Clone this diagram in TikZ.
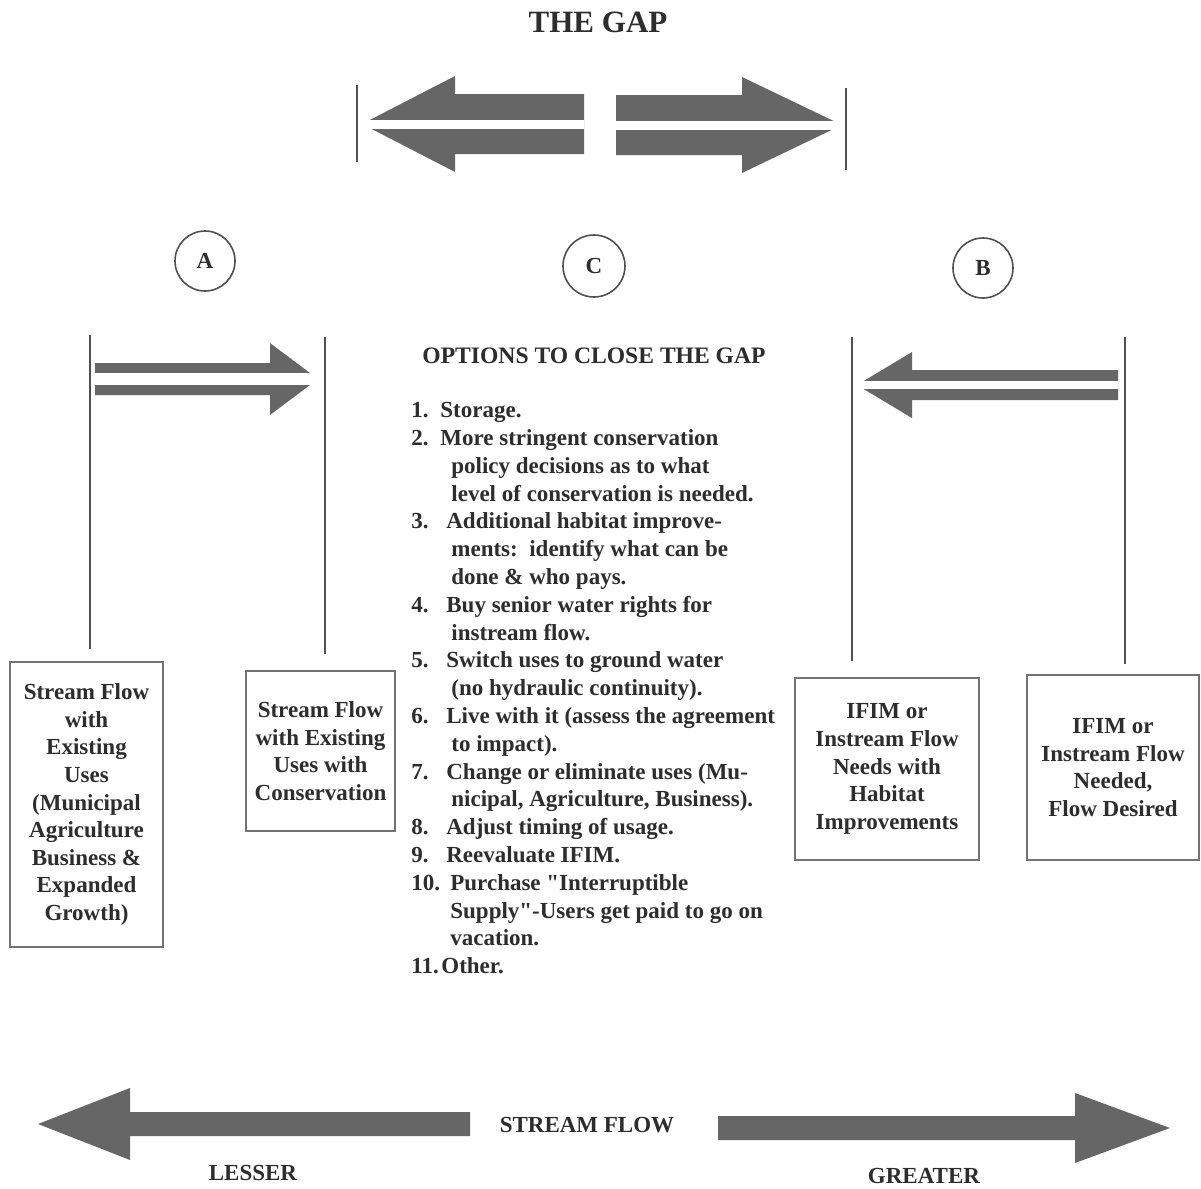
\documentclass[tikz,border=0pt]{standalone}
\usepackage{fontspec}
\setmainfont{Liberation Serif}
\usetikzlibrary{positioning}
\definecolor{scanGray}{RGB}{102,102,102}
\definecolor{inkGray}{RGB}{45,45,45}
\definecolor{ruleGray}{RGB}{80,80,80}

% fat arrow: tail x, head base x, tip x, mid y, shaft half, head half
\newcommand{\flowarrow}[6]{%
  \fill[arrowfill] (#1,#4-#5) -- (#2,#4-#5) -- (#2,#4-#6) -- (#3,#4)
    -- (#2,#4+#6) -- (#2,#4+#5) -- (#1,#4+#5) -- cycle;}

\begin{document}
\begin{tikzpicture}[
    x=0.5pt, y=-0.5pt,
    txt/.style={font=\bfseries\fontsize{11.5}{13.9}\selectfont, text=inkGray, inner sep=0pt},
    ring/.style={circle, draw=ruleGray, line width=0.8pt, minimum size=30pt,
                 inner sep=0pt, font=\bfseries\fontsize{11.5}{13.9}\selectfont, text=inkGray},
    flowbox/.style={rectangle, draw=black!55, line width=0.8pt, align=center,
                    font=\bfseries\fontsize{11.5}{13.8}\selectfont, text=inkGray, inner sep=2pt},
    guide/.style={draw=ruleGray, line width=0.9pt},
    arrowfill/.style={fill=scanGray},
  ]
  \fill[white] (0,0) rectangle (1201,1189);
  \useasboundingbox (0,0) rectangle (1201,1189);

  % the gap
  \node[txt, font=\bfseries\fontsize{15.5}{18}\selectfont] (gapTitle) at (598,22) {THE GAP};
  \flowarrow{584}{455}{362}{124}{30}{48}
  \fill[white] (360,119.5) rectangle (584,128.5);
  \flowarrow{616}{742}{842}{125}{30}{48}
  \fill[white] (616,120.5) rectangle (844,129.5);
  \coordinate (gapBarL) at (357,85);
  \coordinate (gapBarR) at (846,88);
  \draw[guide] (gapBarL) -- ++(0,77);
  \draw[guide] (gapBarR) -- ++(0,82);

  % labels
  \node[ring] (circA) at (205,261) {A};
  \node[ring, minimum size=31pt] (circC) at (594,266) {C};
  \node[ring] (circB) at (983,268) {B};

  % boxes
  \node[flowbox, minimum width=76.5pt, minimum height=142.5pt] (existBox) at (86.5,804.5)
    {Stream Flow\\with\\Existing\\Uses\\(Municipal\\Agriculture\\Business \&\\Expanded\\Growth)};
  \node[flowbox, minimum width=74.5pt, minimum height=80pt] (consBox) at (320.5,751)
    {Stream Flow\\with Existing\\Uses with\\Conservation};
  \node[flowbox, minimum width=92pt, minimum height=91pt] (habBox) at (887,769)
    {IFIM or\\Instream Flow\\Needs with\\Habitat\\Improvements};
  \node[flowbox, minimum width=86pt, minimum height=92.5pt] (desBox) at (1113,767.5)
    {IFIM or\\Instream Flow\\Needed,\\Flow Desired};

  % guide lines down to boxes
  \coordinate (lineA1) at (90,335);
  \coordinate (lineA2) at (325,337);
  \coordinate (lineB1) at (852,337);
  \coordinate (lineB2) at (1125,337);
  \draw[guide, shorten >=6pt] (lineA1) -- (lineA1 |- existBox.north);
  \draw[guide, shorten >=8pt] (lineA2) -- (lineA2 |- consBox.north);
  \draw[guide, shorten >=8pt] (lineB1) -- (lineB1 |- habBox.north);
  \draw[guide, shorten >=5pt] (lineB2) -- (lineB2 |- desBox.north);

  % A and B arrows
  \flowarrow{95}{270}{318}{379}{16}{36}
  \fill[white] (95,373) rectangle (320,385);
  \flowarrow{1118}{912}{857}{385}{15}{33}
  \fill[white] (855,381) rectangle (1118,389);

  % options
  \node[txt, font=\bfseries\fontsize{11.8}{14}\selectfont] (optTitle) at (594,356)
    {OPTIONS TO CLOSE THE GAP};
  \node[txt, align=left, anchor=north west] (optList) at (411,402) {%
    \makebox[14.5pt][l]{1.}Storage.\\
    \makebox[14.5pt][l]{2.}More stringent conservation\\
    \hspace*{20pt}policy decisions as to what\\
    \hspace*{20pt}level of conservation is needed.\\
    \makebox[17.5pt][l]{3.}Additional habitat improve-\\
    \hspace*{20pt}ments:\ \ identify what can be\\
    \hspace*{20pt}done \& who pays.\\
    \makebox[17.5pt][l]{4.}Buy senior water rights for\\
    \hspace*{20pt}instream flow.\\
    \makebox[17.5pt][l]{5.}Switch uses to ground water\\
    \hspace*{20pt}(no hydraulic continuity).\\
    \makebox[17.5pt][l]{6.}Live with it (assess the agreement\\
    \hspace*{20pt}to impact).\\
    \makebox[17.5pt][l]{7.}Change or eliminate uses (Mu-\\
    \hspace*{20pt}nicipal, Agriculture, Business).\\
    \makebox[17.5pt][l]{8.}Adjust timing of usage.\\
    \makebox[17.5pt][l]{9.}Reevaluate IFIM.\\
    \makebox[19.5pt][l]{10.}Purchase \textquotedbl Interruptible\\
    \hspace*{19.5pt}Supply\textquotedbl-Users get paid to go on\\
    \hspace*{19.5pt}vacation.\\
    \makebox[15pt][l]{11.}Other.};

  % stream flow
  \flowarrow{470}{130}{38}{1124}{12}{36}
  \flowarrow{718}{1075}{1170}{1128}{12}{35}
  \node[txt] (streamFlow) at (587,1125) {STREAM FLOW};
  \node[txt] (lesser) at (253,1173) {LESSER};
  \node[txt] (greater) at (924,1176) {GREATER};
\end{tikzpicture}
\end{document}
